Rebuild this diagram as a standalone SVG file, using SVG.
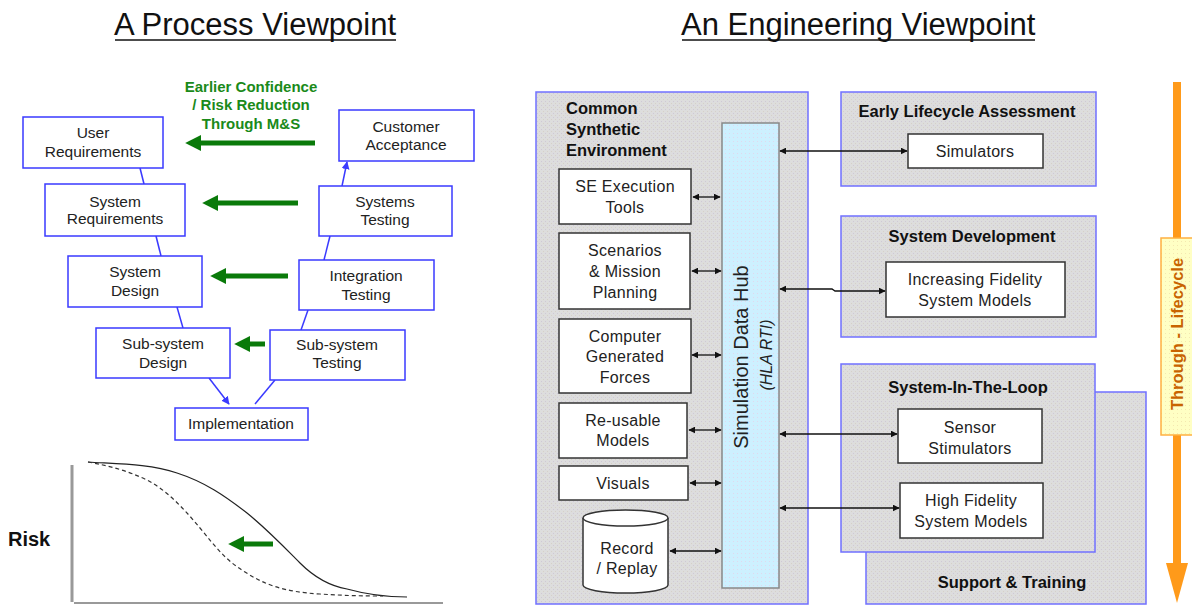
<svg xmlns="http://www.w3.org/2000/svg" width="1192" height="605" viewBox="0 0 1192 605">
<style>
  text { font-family: "Liberation Sans", Arial, sans-serif; }
  .title { font-size: 31px; fill: #111; }
  .vbox { fill: #fff; stroke: #3a3aff; stroke-width: 1.5; }
  .vt { font-size: 15.5px; fill: #222; text-anchor: middle; }
  .green { font-size: 15px; font-weight: bold; fill: #1a8a1a; text-anchor: middle; }
  .garrow { stroke: #0a7a0a; stroke-width: 5; fill: none; }
  .blink { stroke: #3a3aff; stroke-width: 1.5; fill: none; }
  .group { fill: url(#dots); stroke: #7070ff; stroke-width: 1.5; }
  .wbox { fill: #fff; stroke: #333; stroke-width: 1.5; }
  .et { font-size: 16px; fill: #222; text-anchor: middle; letter-spacing: 0.3px; }
  .bt { font-size: 16.5px; font-weight: bold; fill: #111; }
  .conn { stroke: #111; stroke-width: 1.3; fill: none; marker-start: url(#ah); marker-end: url(#ah); }
</style>
<defs>
  <pattern id="dots" width="4" height="4" patternUnits="userSpaceOnUse">
    <rect width="4" height="4" fill="#dddddd"/>
    <rect x="1" y="1" width="1" height="1" fill="#cfc8d6"/>
    <rect x="3" y="3" width="1" height="1" fill="#d6d0c8"/>
  </pattern>
  <pattern id="bdots" width="4" height="4" patternUnits="userSpaceOnUse">
    <rect width="4" height="4" fill="#cdf0ff"/>
    <rect x="1" y="1" width="1" height="1" fill="#e0d8ee"/>
  </pattern>
  <pattern id="ydots" width="4" height="4" patternUnits="userSpaceOnUse">
    <rect width="4" height="4" fill="#ffffc4"/>
    <rect x="1" y="1" width="1" height="1" fill="#f4e8b0"/>
  </pattern>
  <marker id="ah" viewBox="0 0 10 10" refX="9" refY="5" markerWidth="7" markerHeight="7" markerUnits="userSpaceOnUse" orient="auto-start-reverse">
    <path d="M0,0 L10,5 L0,10 z" fill="#111"/>
  </marker>
  <marker id="bh" viewBox="0 0 10 10" refX="9" refY="5" markerWidth="8" markerHeight="8" markerUnits="userSpaceOnUse" orient="auto">
    <path d="M0,0 L10,5 L0,10 z" fill="#3a3aff"/>
  </marker>
  <marker id="gh" viewBox="0 0 10 10" refX="2" refY="5" markerWidth="3.2" markerHeight="3.6" orient="auto">
    <path d="M0,0 L10,5 L0,10 z" fill="#0a7a0a"/>
  </marker>
</defs>

<!-- Titles -->
<g id="titles">
  <text class="title" x="114" y="35">A Process Viewpoint</text>
  <line x1="115" y1="40" x2="396" y2="40" stroke="#111" stroke-width="1.5"/>
  <text class="title" x="681" y="35">An Engineering Viewpoint</text>
  <line x1="682" y1="40" x2="1035" y2="40" stroke="#111" stroke-width="1.5"/>
</g>

<!-- V-model connectors -->
<g id="v-connectors">
  <line class="blink" x1="140" y1="168" x2="144" y2="184"/>
  <line class="blink" x1="156" y1="236" x2="161" y2="256"/>
  <line class="blink" x1="177" y1="307" x2="183" y2="328"/>
  <line class="blink" x1="209" y1="378" x2="229" y2="404" marker-end="url(#bh)"/>
  <line class="blink" x1="255" y1="404" x2="275" y2="380"/>
  <line class="blink" x1="301" y1="330" x2="308" y2="310"/>
  <line class="blink" x1="324" y1="260" x2="330" y2="236"/>
  <line class="blink" x1="342" y1="186" x2="347" y2="162" marker-end="url(#bh)"/>
</g>

<!-- V-model nodes -->
<g id="user-requirements"><rect class="vbox" x="23" y="117" width="140" height="51"/><text class="vt" x="93" y="138">User</text><text class="vt" x="93" y="157">Requirements</text></g>
<g id="customer-acceptance"><rect class="vbox" x="339" y="110" width="135" height="51"/><text class="vt" x="406" y="132">Customer</text><text class="vt" x="406" y="150">Acceptance</text></g>
<g id="system-requirements"><rect class="vbox" x="45" y="184" width="140" height="52"/><text class="vt" x="115" y="207">System</text><text class="vt" x="115" y="224">Requirements</text></g>
<g id="systems-testing"><rect class="vbox" x="319" y="186" width="133" height="50"/><text class="vt" x="385" y="207">Systems</text><text class="vt" x="385" y="225">Testing</text></g>
<g id="system-design"><rect class="vbox" x="68" y="256" width="134" height="51"/><text class="vt" x="135" y="277">System</text><text class="vt" x="135" y="296">Design</text></g>
<g id="integration-testing"><rect class="vbox" x="299" y="260" width="135" height="50"/><text class="vt" x="366" y="281">Integration</text><text class="vt" x="366" y="300">Testing</text></g>
<g id="subsystem-design"><rect class="vbox" x="96" y="328" width="134" height="50"/><text class="vt" x="163" y="349">Sub-system</text><text class="vt" x="163" y="368">Design</text></g>
<g id="subsystem-testing"><rect class="vbox" x="270" y="330" width="135" height="50"/><text class="vt" x="337" y="350">Sub-system</text><text class="vt" x="337" y="368">Testing</text></g>
<g id="implementation"><rect class="vbox" x="175" y="408" width="133" height="32"/><text class="vt" x="241" y="429">Implementation</text></g>

<!-- Green arrows and text -->
<g id="risk-reduction">
  <text class="green" x="251" y="92">Earlier Confidence</text>
  <text class="green" x="251" y="110">/ Risk Reduction</text>
  <text class="green" x="251" y="129">Through M&amp;S</text>
  <line class="garrow" x1="315" y1="143" x2="198" y2="143" marker-end="url(#gh)"/>
  <line class="garrow" x1="298" y1="203" x2="215" y2="203" marker-end="url(#gh)"/>
  <line class="garrow" x1="288" y1="276" x2="223" y2="276" marker-end="url(#gh)"/>
  <line class="garrow" x1="265" y1="344" x2="247" y2="344" marker-end="url(#gh)"/>
</g>

<!-- Risk chart -->
<g id="risk-chart">
  <line x1="72" y1="465" x2="72" y2="602" stroke="#999" stroke-width="3"/>
  <line x1="74" y1="603" x2="443" y2="603" stroke="#999" stroke-width="2"/>
  <text x="8" y="546" font-size="20" font-weight="bold" fill="#111">Risk</text>
  <path d="M88,462 C120,464 150,464 177,473 C205,482 225,496 247,513 C268,530 287,550 300,563 C315,578 330,586 347,589 C365,594 385,597 407,597" fill="none" stroke="#222" stroke-width="1.2"/>
  <path d="M88,462 C110,466 128,471 147,480 C168,491 185,510 200,528 C215,546 225,560 245,572 C265,585 285,592 320,594 C350,596 370,596 383,596" fill="none" stroke="#333" stroke-width="1.2" stroke-dasharray="4,3"/>
  <line class="garrow" x1="273" y1="544" x2="241" y2="544" marker-end="url(#gh)"/>
</g>

<!-- Engineering groups -->
<g id="support-training"><rect class="group" x="866" y="392" width="280" height="212"/><text class="bt" x="1012" y="588" text-anchor="middle">Support &amp; Training</text></g>
<g id="common-synthetic-environment"><rect class="group" x="536" y="92" width="272" height="512"/>
  <text class="bt" x="566" y="114">Common</text><text class="bt" x="566" y="135">Synthetic</text><text class="bt" x="566" y="156">Environment</text></g>
<g id="early-lifecycle"><rect class="group" x="841" y="92" width="255" height="94"/><text class="bt" x="967" y="117" text-anchor="middle">Early Lifecycle Assessment</text></g>
<g id="system-development"><rect class="group" x="841" y="216" width="255" height="121"/><text class="bt" x="972" y="242" text-anchor="middle">System Development</text></g>
<g id="system-in-the-loop"><rect class="group" x="841" y="364" width="254" height="188"/><text class="bt" x="968" y="393" text-anchor="middle">System-In-The-Loop</text></g>

<!-- Hub -->
<g id="simulation-data-hub">
  <rect x="722" y="123" width="57" height="465" fill="url(#bdots)" stroke="#888" stroke-width="1.5"/>
  <text transform="translate(748,357) rotate(-90)" font-size="20" fill="#222" text-anchor="middle">Simulation Data Hub</text>
  <text transform="translate(772,355) rotate(-90)" font-size="16" font-style="italic" fill="#222" text-anchor="middle">(HLA RTI)</text>
</g>

<!-- CSE inner nodes -->
<g id="se-execution-tools"><rect class="wbox" x="559" y="169" width="132" height="55"/><text class="et" x="625" y="192">SE Execution</text><text class="et" x="625" y="213">Tools</text></g>
<g id="scenarios"><rect class="wbox" x="559" y="233" width="131" height="76"/><text class="et" x="625" y="256">Scenarios</text><text class="et" x="625" y="277">&amp; Mission</text><text class="et" x="625" y="298">Planning</text></g>
<g id="cgf"><rect class="wbox" x="559" y="319" width="132" height="74"/><text class="et" x="625" y="342">Computer</text><text class="et" x="625" y="362">Generated</text><text class="et" x="625" y="383">Forces</text></g>
<g id="reusable-models"><rect class="wbox" x="559" y="403" width="128" height="55"/><text class="et" x="623" y="426">Re-usable</text><text class="et" x="623" y="446">Models</text></g>
<g id="visuals"><rect class="wbox" x="559" y="466" width="129" height="34"/><text class="et" x="623" y="489">Visuals</text></g>
<g id="record-replay">
  <path d="M583,518 L583,585 A42.5,8 0 0 0 668,585 L668,518" fill="#fff" stroke="#333" stroke-width="1.5"/>
  <ellipse cx="625.5" cy="518" rx="42.5" ry="8" fill="#fff" stroke="#333" stroke-width="1.5"/>
  <text class="et" x="627" y="554">Record</text><text class="et" x="627" y="574">/ Replay</text>
</g>

<!-- Right inner nodes -->
<g id="simulators"><rect class="wbox" x="908" y="134" width="135" height="34"/><text class="et" x="975" y="157">Simulators</text></g>
<g id="increasing-fidelity"><rect class="wbox" x="886" y="262" width="179" height="55"/><text class="et" x="975" y="285">Increasing Fidelity</text><text class="et" x="975" y="306">System Models</text></g>
<g id="sensor-stimulators"><rect class="wbox" x="898" y="409" width="144" height="54"/><text class="et" x="970" y="433">Sensor</text><text class="et" x="970" y="454">Stimulators</text></g>
<g id="high-fidelity"><rect class="wbox" x="900" y="483" width="143" height="55"/><text class="et" x="971" y="506">High Fidelity</text><text class="et" x="971" y="527">System Models</text></g>

<!-- Connectors -->
<g id="connectors">
  <line class="conn" x1="693" y1="197" x2="720" y2="197"/>
  <line class="conn" x1="692" y1="271" x2="721" y2="271"/>
  <line class="conn" x1="692" y1="355" x2="721" y2="355"/>
  <line class="conn" x1="689" y1="430" x2="721" y2="430"/>
  <line class="conn" x1="690" y1="483" x2="721" y2="483"/>
  <line class="conn" x1="670" y1="551" x2="721" y2="551"/>
  <line class="conn" x1="780" y1="151" x2="907" y2="151"/>
  <polyline class="conn" points="780,289 832,289 835,291 885,291"/>
  <line class="conn" x1="780" y1="434" x2="897" y2="434"/>
  <line class="conn" x1="780" y1="508" x2="899" y2="508"/>
</g>

<!-- Through-lifecycle arrow -->
<g id="through-lifecycle">
  <rect x="1173" y="82" width="8" height="485" fill="#ff9a1a"/>
  <path d="M1166,563 L1188,563 L1177,603 z" fill="#ff9a1a"/>
  <rect x="1161" y="238" width="33" height="197" fill="url(#ydots)" stroke="#ffb040" stroke-width="1.5"/>
  <text transform="translate(1183,334) rotate(-90)" font-size="16.5" font-weight="bold" fill="#c86400" text-anchor="middle">Through - Lifecycle</text>
</g>
</svg>
